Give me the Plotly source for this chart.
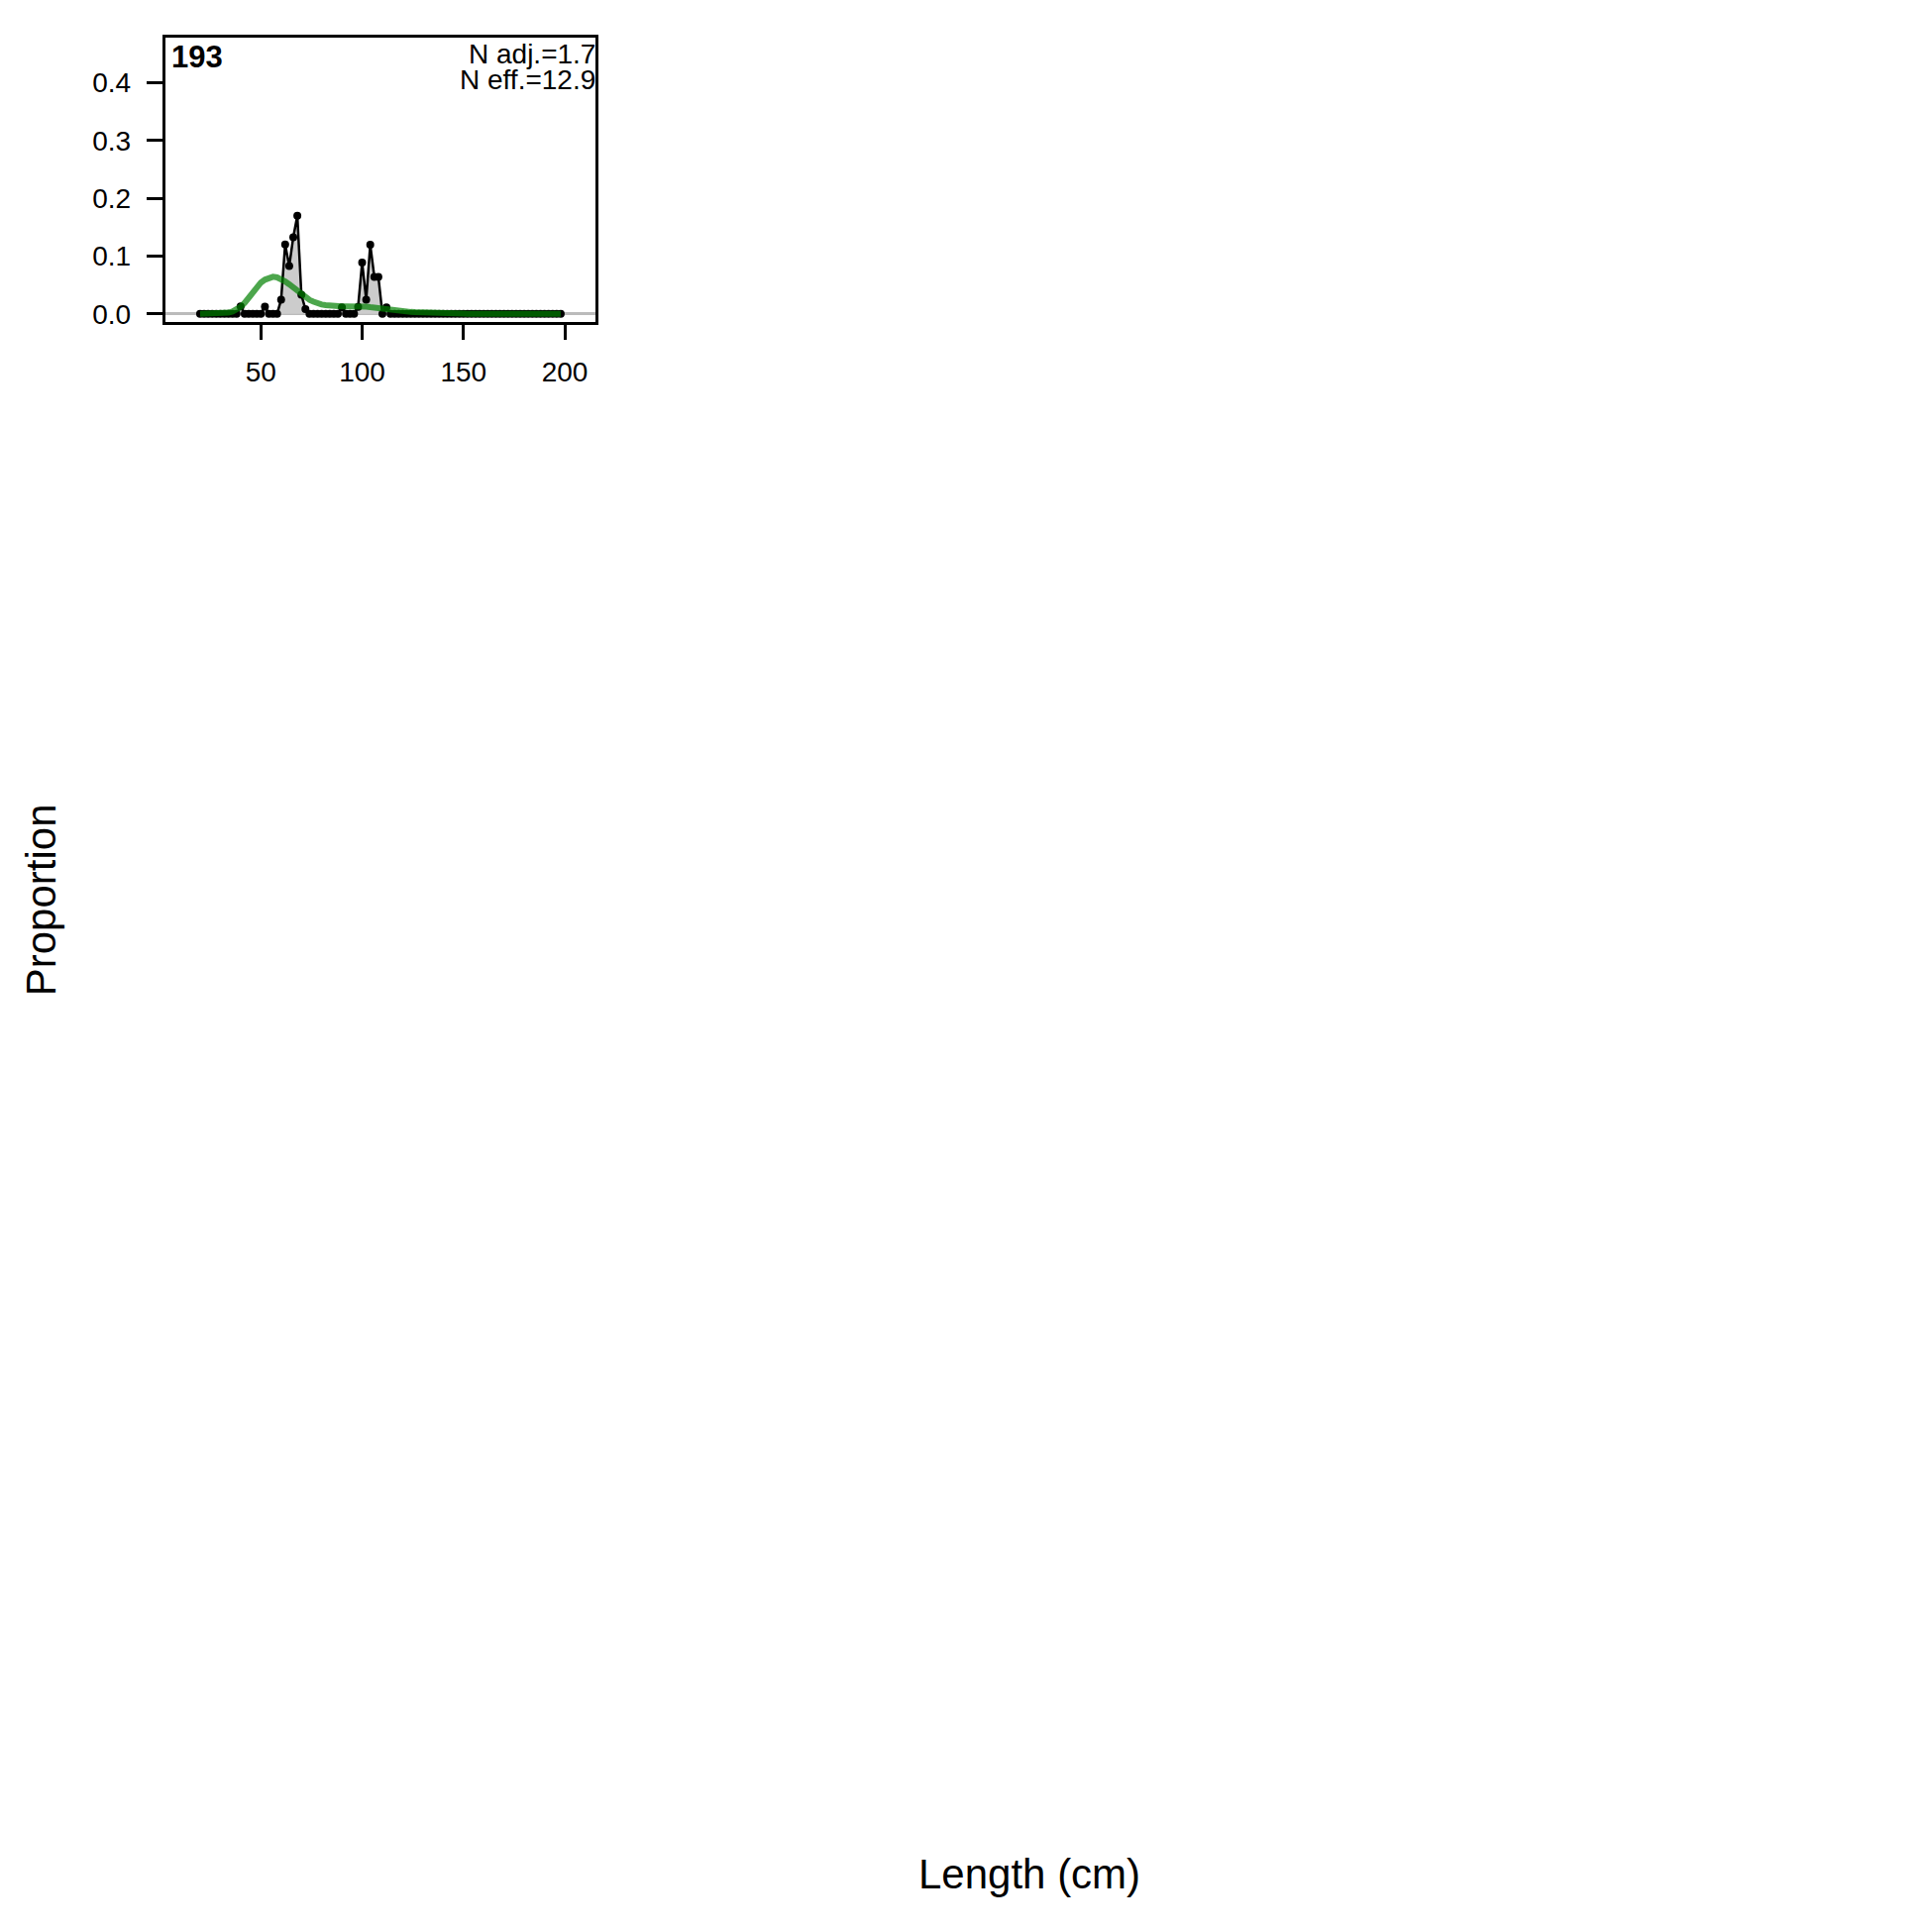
import plotly.graph_objects as go

# Length bins (cm)
lengths = [20, 22, 24, 26, 28, 30, 32, 34, 36, 38,
           40, 42, 44, 46, 48, 50, 52, 54, 56, 58,
           60, 62, 64, 66, 68, 70, 72, 74, 76, 78,
           80, 82, 84, 86, 88, 90, 92, 94, 96, 98,
           100, 102, 104, 106, 108, 110, 112, 114, 116, 118,
           120, 122, 124, 126, 128, 130, 132, 134, 136, 138,
           140, 142, 144, 146, 148, 150, 152, 154, 156, 158,
           160, 162, 164, 166, 168, 170, 172, 174, 176, 178,
           180, 182, 184, 186, 188, 190, 192, 194, 196, 198]

# Observed proportions
observed = [0, 0, 0, 0, 0, 0, 0, 0, 0, 0,
            0.013, 0, 0, 0, 0, 0, 0.0125, 0, 0, 0,
            0.0245, 0.12, 0.0825, 0.1325, 0.1695, 0.033, 0.008, 0, 0, 0,
            0, 0, 0, 0, 0, 0.011, 0, 0, 0, 0.012,
            0.0887, 0.0245, 0.1195, 0.064, 0.064, 0, 0.011, 0, 0, 0,
            0, 0, 0, 0, 0, 0, 0, 0, 0, 0,
            0, 0, 0, 0, 0, 0, 0, 0, 0, 0,
            0, 0, 0, 0, 0, 0, 0, 0, 0, 0,
            0, 0, 0, 0, 0, 0, 0, 0, 0, 0]

# Expected proportions
expected = [0, 0, 0, 0, 0.0002, 0.0005, 0.001, 0.002, 0.004, 0.007,
            0.012, 0.019, 0.028, 0.038, 0.047, 0.054, 0.059, 0.062, 0.064, 0.063,
            0.060, 0.056, 0.051, 0.045, 0.039, 0.033, 0.028, 0.024, 0.021, 0.018,
            0.016, 0.015, 0.014, 0.0135, 0.013, 0.013, 0.013, 0.0132, 0.0135, 0.0135,
            0.013, 0.0125, 0.0115, 0.0105, 0.009, 0.0078, 0.0066, 0.0056, 0.005, 0.0045,
            0.004, 0.0036, 0.0032, 0.0028, 0.0024, 0.002, 0.0015, 0.001, 0.0007, 0.0005,
            0.0003, 0.0003, 0.0003, 0.0003, 0.0002, 0.0002, 0.0001, 0.0001, 0, 0,
            0, 0, 0, 0, 0, 0, 0, 0, 0, 0,
            0, 0, 0, 0, 0, 0, 0, 0, 0, 0]

x_ticks = [50, 100, 150, 200]
y_ticks = [0.0, 0.1, 0.2, 0.3, 0.4]
y_ticklabels = ["0.0", "0.1", "0.2", "0.3", "0.4"]

panel_label = "193"
n_adj_label = "N adj.=1.7"
n_eff_label = "N eff.=12.9"

OFFX = 8
OFFY = 6
W = H = 1950 - 8
FONT = "Liberation Sans, Arial, sans-serif"

fig = go.Figure()
fig.add_trace(go.Scatter(
    x=lengths, y=observed, mode="lines+markers",
    fill="tozeroy", fillcolor="#cccccc",
    line=dict(color="black", width=2.5),
    marker=dict(color="black", size=8),
    showlegend=False, hoverinfo="skip"))
fig.add_trace(go.Scatter(
    x=lengths, y=expected, mode="lines",
    line=dict(color="rgba(0,128,0,0.7)", width=6),
    showlegend=False, hoverinfo="skip"))

def px(v):
    return (v - OFFX) / W

def py(v):
    return 1 - (v - OFFY) / H

fig.update_layout(
    width=W, height=H, autosize=False,
    margin=dict(l=0, r=0, t=0, b=0),
    paper_bgcolor="white", plot_bgcolor="white",
    font=dict(family=FONT, color="black"),
    xaxis=dict(domain=[px(166.5), px(600.8)], range=[2.66, 215.06],
               tickvals=x_ticks, ticks="outside", ticklen=15, tickwidth=2.5,
               tickcolor="black", showline=True, mirror=True, linewidth=2.5,
               linecolor="black", showgrid=False, zeroline=False,
               ticklabelstandoff=9,
               tickfont=dict(size=28, family=FONT)),
    yaxis=dict(domain=[py(324.2), py(36.5)], range=[-0.014, 0.4772],
               tickvals=y_ticks, ticktext=y_ticklabels, ticks="outside",
               ticklen=16, tickwidth=2.5, tickcolor="black", showline=True,
               mirror=True, linewidth=2.5, linecolor="black", showgrid=False,
               zeroline=True, zerolinecolor="#bbbbbb", zerolinewidth=2.5,
               ticklabelstandoff=10,
               tickfont=dict(size=28, family=FONT)),
    annotations=[
        dict(text="<b>%s</b>" % panel_label, xref="paper", yref="paper",
             x=px(172), y=py(56), xanchor="left", yanchor="middle",
             showarrow=False, borderpad=0, font=dict(size=31, family=FONT)),
        dict(text=n_adj_label, xref="paper", yref="paper",
             x=px(602), y=py(52.5), xanchor="right", yanchor="middle",
             showarrow=False, borderpad=0, font=dict(size=28, family=FONT)),
        dict(text=n_eff_label, xref="paper", yref="paper",
             x=px(602), y=py(79), xanchor="right", yanchor="middle",
             showarrow=False, borderpad=0, font=dict(size=28, family=FONT)),
        dict(text="Length (cm)", xref="paper", yref="paper",
             x=px(1039), y=py(1897), xanchor="center", yanchor="middle",
             showarrow=False, borderpad=0, font=dict(size=42, family=FONT)),
        dict(text="Proportion", xref="paper", yref="paper",
             x=px(41), y=py(910), xanchor="center", yanchor="middle",
             textangle=-90, showarrow=False, borderpad=0,
             font=dict(size=42, family=FONT)),
    ],
)

fig.write_html("out.html")
